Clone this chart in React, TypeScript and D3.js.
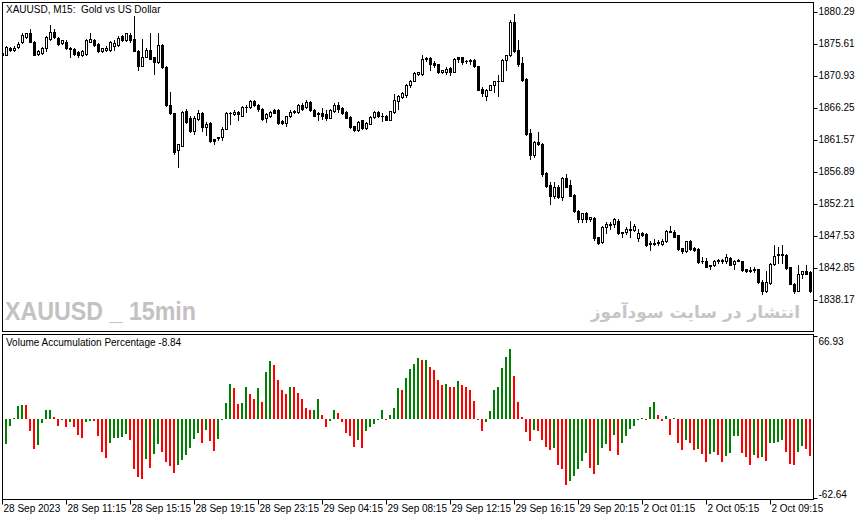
import { scaleBand, scaleLinear } from "d3";

// M15 XAUUSD bars (28 Sep 07:15 .. 2 Oct 10:45)
const opens = [
    1874.0, 1874.1, 1875.1, 1874.8, 1875.2, 1876.0, 1876.7, 1877.2, 1876.0, 1874.2,
    1874.3, 1875.0, 1876.4, 1877.4, 1876.6, 1875.8, 1876.0, 1875.0, 1874.9, 1874.5,
    1874.0, 1874.2, 1876.0, 1876.2, 1875.7, 1874.6, 1874.8, 1874.8, 1875.3, 1875.5,
    1876.8, 1876.2, 1877.0, 1876.4, 1874.7, 1872.5, 1873.8, 1874.8, 1873.7, 1873.0,
    1875.5, 1872.3, 1866.8, 1865.5, 1860.1, 1860.8, 1865.9, 1864.9, 1863.0, 1864.7,
    1865.6, 1863.5, 1864.1, 1861.7, 1862.0, 1862.0, 1863.3, 1865.5, 1865.4, 1865.7,
    1865.2, 1866.5, 1866.4, 1867.3, 1866.8, 1866.2, 1864.9, 1865.1, 1866.0, 1866.0,
    1864.4, 1864.1, 1865.1, 1865.9, 1865.7, 1866.8, 1866.4, 1867.2, 1866.0, 1865.5,
    1865.5, 1865.4, 1864.9, 1865.8, 1866.8, 1866.3, 1865.7, 1865.0, 1863.6, 1863.1,
    1864.5, 1863.4, 1864.0, 1865.0, 1865.7, 1865.2, 1865.2, 1864.6, 1865.7, 1867.3,
    1867.9, 1868.2, 1869.7, 1870.3, 1871.2, 1871.2, 1873.4, 1873.6, 1872.9, 1872.7,
    1871.5, 1871.6, 1872.2, 1871.6, 1873.7, 1873.7, 1873.1, 1873.1, 1873.3, 1872.4,
    1869.1, 1868.1, 1869.0, 1869.6, 1870.2, 1870.3, 1873.3, 1874.0, 1878.8, 1874.8,
    1872.9, 1870.6, 1862.6, 1859.4, 1861.4, 1861.1, 1856.8, 1855.0, 1853.5, 1854.8,
    1853.3, 1856.1, 1855.0, 1853.6, 1851.3, 1850.1, 1850.9, 1850.0, 1850.2, 1847.4,
    1846.7, 1848.9, 1849.2, 1849.3, 1849.8, 1848.1, 1848.1, 1848.5, 1848.4, 1847.3,
    1848.0, 1847.9, 1846.5, 1846.4, 1846.5, 1846.4, 1846.8, 1848.2, 1848.2, 1847.7,
    1845.8, 1845.4, 1846.9, 1845.9, 1845.7, 1843.9, 1844.0, 1843.3, 1843.3, 1843.9,
    1844.0, 1844.0, 1844.4, 1843.5, 1844.0, 1843.9, 1842.7, 1842.5, 1842.6, 1842.7,
    1840.9, 1839.5, 1840.7, 1843.5, 1844.8, 1844.8, 1844.8, 1843.0, 1840.6, 1839.6,
    1842.0, 1842.4, 1842.3,
];
const highs = [
    1874.6, 1875.3, 1875.2, 1875.3, 1876.0, 1877.2, 1877.3, 1877.8, 1876.1, 1874.8,
    1875.2, 1876.8, 1878.4, 1877.9, 1876.7, 1876.3, 1876.2, 1875.2, 1875.0, 1874.6,
    1874.8, 1876.4, 1877.3, 1876.4, 1875.8, 1875.1, 1875.3, 1876.1, 1876.2, 1876.8,
    1877.0, 1877.3, 1877.3, 1879.7, 1874.8, 1876.4, 1875.0, 1877.2, 1873.8, 1877.2,
    1875.7, 1872.4, 1868.6, 1865.6, 1861.1, 1865.9, 1866.2, 1865.2, 1865.1, 1866.0,
    1865.7, 1864.2, 1864.3, 1861.8, 1862.1, 1863.5, 1865.7, 1865.7, 1866.0, 1865.8,
    1866.6, 1866.7, 1867.4, 1867.4, 1866.9, 1866.3, 1865.5, 1865.8, 1866.2, 1866.1,
    1864.5, 1865.2, 1866.0, 1866.0, 1866.9, 1867.0, 1867.4, 1867.3, 1866.1, 1865.7,
    1866.3, 1866.0, 1866.1, 1867.0, 1867.2, 1866.4, 1865.8, 1865.1, 1863.7, 1864.4,
    1864.6, 1864.2, 1865.1, 1865.8, 1865.8, 1865.5, 1865.3, 1865.9, 1868.3, 1868.2,
    1868.6, 1869.8, 1870.4, 1871.6, 1871.6, 1874.1, 1873.8, 1873.8, 1873.2, 1872.8,
    1871.9, 1872.3, 1872.3, 1873.6, 1873.8, 1873.8, 1873.3, 1873.4, 1873.4, 1872.5,
    1869.3, 1869.1, 1869.7, 1870.3, 1871.1, 1873.4, 1874.1, 1879.1, 1880.0, 1876.3,
    1873.8, 1870.7, 1863.3, 1861.5, 1862.8, 1861.2, 1856.9, 1855.5, 1855.5, 1855.0,
    1856.2, 1856.6, 1855.7, 1853.7, 1851.4, 1851.0, 1851.1, 1850.4, 1850.3, 1847.5,
    1849.0, 1849.6, 1849.6, 1850.2, 1850.1, 1848.2, 1848.9, 1849.8, 1849.3, 1848.6,
    1848.1, 1848.0, 1846.8, 1847.2, 1847.0, 1847.1, 1848.4, 1849.0, 1848.4, 1847.8,
    1845.9, 1846.9, 1847.0, 1846.0, 1845.8, 1844.5, 1844.4, 1843.4, 1844.1, 1844.2,
    1844.2, 1844.9, 1844.5, 1844.1, 1844.2, 1844.0, 1842.8, 1843.1, 1843.0, 1842.8,
    1841.2, 1842.5, 1843.6, 1846.3, 1846.0, 1846.2, 1844.9, 1843.1, 1840.7, 1843.3,
    1842.5, 1843.3, 1842.4,
];
const lows = [
    1873.6, 1874.0, 1874.6, 1874.6, 1875.1, 1875.8, 1876.6, 1875.9, 1874.0, 1874.1,
    1874.2, 1874.7, 1876.3, 1876.6, 1875.5, 1875.6, 1874.9, 1873.8, 1874.0, 1873.8,
    1873.9, 1874.1, 1875.9, 1875.3, 1874.5, 1874.5, 1874.6, 1874.7, 1874.8, 1875.4,
    1876.1, 1876.1, 1876.0, 1874.6, 1871.9, 1872.4, 1873.7, 1873.4, 1871.3, 1872.9,
    1872.2, 1866.6, 1865.4, 1859.6, 1857.7, 1860.7, 1864.1, 1862.8, 1862.5, 1864.6,
    1863.0, 1862.3, 1861.4, 1861.1, 1861.6, 1861.6, 1863.2, 1864.0, 1865.3, 1864.5,
    1865.1, 1865.7, 1866.3, 1866.6, 1865.9, 1864.5, 1864.3, 1865.0, 1865.5, 1864.0,
    1863.9, 1863.7, 1865.0, 1865.6, 1865.6, 1866.0, 1866.3, 1865.9, 1865.1, 1864.6,
    1864.7, 1864.6, 1864.8, 1865.7, 1865.7, 1865.4, 1864.8, 1863.4, 1862.9, 1862.9,
    1863.3, 1863.2, 1863.9, 1864.9, 1865.0, 1864.4, 1864.5, 1864.5, 1865.6, 1866.2,
    1867.7, 1867.9, 1869.4, 1870.2, 1871.1, 1871.1, 1873.2, 1871.9, 1872.3, 1871.4,
    1871.4, 1871.2, 1871.1, 1871.5, 1873.0, 1872.7, 1872.9, 1872.8, 1872.3, 1868.9,
    1868.0, 1867.5, 1868.9, 1868.6, 1868.1, 1870.2, 1871.8, 1873.9, 1874.5, 1872.5,
    1870.2, 1862.4, 1858.9, 1859.1, 1860.9, 1856.4, 1854.8, 1852.2, 1853.2, 1853.1,
    1852.9, 1854.7, 1853.4, 1851.1, 1849.7, 1849.6, 1849.7, 1849.8, 1847.0, 1846.4,
    1846.5, 1848.0, 1848.6, 1848.9, 1847.9, 1847.5, 1847.9, 1847.5, 1848.3, 1846.8,
    1847.6, 1846.1, 1845.5, 1846.2, 1846.2, 1846.3, 1846.7, 1848.1, 1847.4, 1845.6,
    1845.1, 1845.3, 1845.6, 1845.4, 1843.7, 1843.7, 1843.0, 1842.8, 1843.2, 1843.7,
    1843.7, 1843.7, 1843.3, 1842.8, 1843.9, 1842.5, 1842.3, 1842.3, 1842.3, 1840.7,
    1839.1, 1839.4, 1840.6, 1843.4, 1843.7, 1843.7, 1842.8, 1840.5, 1839.3, 1839.5,
    1841.5, 1842.0, 1839.4,
];
const closes = [
    1874.3, 1875.2, 1874.8, 1875.0, 1875.7, 1876.9, 1877.2, 1876.0, 1874.1, 1874.7,
    1875.0, 1876.7, 1877.4, 1876.7, 1875.7, 1876.2, 1875.0, 1874.9, 1874.2, 1874.0,
    1874.6, 1876.3, 1876.4, 1875.5, 1874.6, 1875.0, 1875.1, 1876.0, 1875.8, 1876.6,
    1876.2, 1877.2, 1876.2, 1874.7, 1872.5, 1873.8, 1874.8, 1873.5, 1873.0, 1875.5,
    1872.3, 1866.7, 1865.5, 1859.8, 1861.0, 1865.7, 1864.2, 1863.0, 1864.9, 1865.5,
    1863.5, 1864.0, 1861.5, 1861.5, 1861.9, 1863.3, 1865.6, 1865.6, 1865.7, 1865.4,
    1866.5, 1866.4, 1867.3, 1866.7, 1866.2, 1864.7, 1865.4, 1865.7, 1865.6, 1864.1,
    1864.1, 1865.1, 1865.7, 1865.7, 1866.8, 1866.1, 1867.2, 1866.0, 1865.2, 1865.4,
    1865.1, 1864.9, 1866.0, 1866.8, 1866.2, 1865.5, 1864.9, 1863.5, 1863.1, 1864.3,
    1863.4, 1864.1, 1865.0, 1865.7, 1865.1, 1865.1, 1864.6, 1865.8, 1867.4, 1868.0,
    1868.5, 1869.7, 1870.3, 1871.4, 1871.5, 1873.4, 1873.6, 1872.8, 1872.6, 1871.5,
    1871.8, 1872.0, 1871.5, 1873.5, 1873.4, 1873.0, 1873.2, 1873.3, 1872.4, 1869.0,
    1868.5, 1869.0, 1869.6, 1870.2, 1870.3, 1873.3, 1874.0, 1878.9, 1874.6, 1872.8,
    1870.4, 1862.5, 1859.4, 1861.4, 1861.0, 1856.7, 1854.9, 1853.5, 1854.8, 1853.3,
    1856.1, 1854.8, 1853.5, 1851.2, 1850.1, 1850.9, 1850.1, 1850.3, 1847.3, 1846.6,
    1848.9, 1849.3, 1849.3, 1850.0, 1848.0, 1848.0, 1848.6, 1848.6, 1849.0, 1848.0,
    1847.7, 1846.2, 1846.4, 1846.6, 1846.7, 1846.9, 1848.3, 1848.3, 1847.5, 1845.7,
    1845.4, 1846.8, 1845.7, 1845.5, 1843.8, 1844.0, 1843.1, 1843.2, 1844.0, 1844.1,
    1844.1, 1844.5, 1843.4, 1844.0, 1844.1, 1842.6, 1842.4, 1842.6, 1842.7, 1840.8,
    1839.6, 1840.8, 1843.5, 1844.7, 1844.9, 1844.9, 1842.9, 1840.6, 1839.6, 1842.0,
    1842.4, 1842.1, 1839.5,
];

// Volume Accumulation Percentage, one value per bar
const vap = [
    -25.0, -19.6, -5.3, 1.1, 10.6, 11.9, 11.4, -9.3, -23.6, -20.4,
    -2.9, 7.2, 7.9, 1.6, -5.0, -0.5, -6.1, -2.1, -6.1, -12.5,
    -14.8, -2.1, -1.3, -1.6, -13.2, -26.0, -30.7, -18.8, -15.1, -14.9,
    -14.0, -11.7, -16.4, -39.2, -45.8, -47.4, -31.5, -38.4, -27.6, -19.6,
    -26.0, -33.9, -36.8, -42.7, -36.3, -32.3, -28.4, -22.5, -15.4, -10.9,
    -18.8, -8.2, -17.5, -25.2, -15.6, 0.5, 13.5, 28.6, 24.9, 12.7,
    13.5, 26.2, 19.9, 15.9, 24.9, 14.3, 38.2, 46.4, 43.7, 31.8,
    23.8, 19.9, 26.2, 26.0, 20.7, 16.4, 9.5, 7.4, 7.9, 15.9,
    3.2, -6.1, -1.3, 7.2, 4.8, -2.1, -10.9, -13.2, -22.0, -16.2,
    -22.8, -9.3, -5.8, -3.7, -0.8, 7.2, -0.5, 3.2, 9.5, 24.9,
    23.1, 33.4, 40.0, 44.5, 49.3, 47.2, 47.7, 42.1, 39.7, 31.8,
    27.8, 28.6, 26.2, 26.0, 31.0, 27.8, 26.2, 23.1, 15.1, -0.5,
    -9.3, -2.1, 6.4, 23.1, 26.2, 41.3, 50.1, 56.4, 35.0, 14.3,
    1.6, -10.1, -17.2, -8.5, -9.3, -16.4, -22.0, -24.4, -22.8, -36.3,
    -39.5, -52.2, -49.0, -45.0, -39.5, -33.1, -26.8, -38.7, -43.5, -36.3,
    -22.8, -19.6, -25.2, -12.5, -28.4, -18.8, -13.2, -7.7, -5.3, -0.5,
    0.8, -0.5, 10.3, 14.3, 3.2, -1.3, 2.4, -12.5, 0.8, -18.8,
    -24.4, -16.4, -18.8, -24.6, -23.6, -27.6, -33.9, -27.6, -26.0, -28.4,
    -33.9, -29.1, -26.8, -13.2, -13.0, -26.8, -29.9, -36.3, -28.4, -30.7,
    -29.9, -33.1, -18.8, -18.6, -18.0, -16.4, -26.0, -35.5, -36.3, -26.0,
    -21.2, -23.6, -29.1,
];

const priceTicks = [1880.29, 1875.61, 1870.93, 1866.25, 1861.57, 1856.89, 1852.21, 1847.53, 1842.85, 1838.17];
const vapTicks = [66.93, -62.64];
const timeTickBars = [0, 16, 32, 48, 64, 80, 96, 112, 128, 144, 160, 176, 192];
const timeLabels = [
    "28 Sep 2023", "28 Sep 11:15", "28 Sep 15:15", "28 Sep 19:15", "28 Sep 23:15",
    "29 Sep 04:15", "29 Sep 08:15", "29 Sep 12:15", "29 Sep 16:15", "29 Sep 20:15",
    "2 Oct 01:15", "2 Oct 05:15", "2 Oct 09:15",
];

const FONT = "'Liberation Sans', Arial, sans-serif";

export default function App() {
    const width = 866;
    const height = 520;
    const left = 2.5;
    const right = 813.5;
    const mainTop = 2.5;
    const mainBottom = 331.5;
    const subTop = 334.5;
    const subBottom = 499.5;

    const bars = opens.map((_, i) => i);
    const scaleX = scaleBand<number>()
        .domain(bars)
        .range([0.5, 0.5 + bars.length * 4]);
    const cx = (i: number) => (scaleX(i) ?? 0) + scaleX.bandwidth() / 2;

    const scaleY = scaleLinear()
        .domain([1838.17, 1880.29])
        .range([300.4, 12.3]);
    const scaleV = scaleLinear()
        .domain([-62.64, 66.93])
        .range([498, 335.5]);
    const zero = Math.round(scaleV(0));

    return (
        <svg
            width={width}
            height={height}
            style={{ position: "absolute", left: 0, top: 0, background: "#fff" }}
            fontFamily={FONT}
        >
            <defs>
                <clipPath id="mainClip">
                    <rect x={left} y={mainTop} width={right - left} height={mainBottom - mainTop} />
                </clipPath>
                <clipPath id="subClip">
                    <rect x={left} y={subTop} width={right - left} height={subBottom - subTop} />
                </clipPath>
            </defs>
            <rect x={0} y={0} width={width} height={height} fill="#fff" />

            {/* watermarks */}
            <text
                x={5}
                y={320}
                fontSize={26}
                fontWeight="bold"
                fill="#c2c2c2"
                textLength={191}
                lengthAdjust="spacingAndGlyphs"
            >
                XAUUSD _ 15min
            </text>
            <text
                x={800}
                y={318}
                fontSize={17}
                fontWeight="bold"
                fontFamily="'DejaVu Sans', sans-serif"
                fill="#c6c6c6"
                textAnchor="end"
            >
                انتشار در سایت سودآموز
            </text>

            {/* candles */}
            <g clipPath="url(#mainClip)">
                {bars.map((i) => {
                    const x = cx(i);
                    const o = opens[i];
                    const c = closes[i];
                    const top = Math.round(scaleY(Math.max(o, c))) + 0.5;
                    const bot = Math.round(scaleY(Math.min(o, c))) + 0.5;
                    const up = c >= o;
                    return (
                        <g key={`c-${i}`}>
                            <line
                                x1={x}
                                x2={x}
                                y1={Math.round(scaleY(highs[i]))}
                                y2={Math.round(scaleY(lows[i])) + 1}
                                stroke="#000"
                            />
                            {bot - top < 1 ? (
                                <line x1={x - 1.5} x2={x + 1.5} y1={top} y2={top} stroke="#000" />
                            ) : (
                                <rect
                                    x={x - 1}
                                    y={top}
                                    width={2}
                                    height={bot - top}
                                    fill={up ? "#fff" : "#000"}
                                    stroke="#000"
                                />
                            )}
                        </g>
                    );
                })}
            </g>

            {/* histogram */}
            <g clipPath="url(#subClip)">
                {bars.map((i) => {
                    const v = vap[i];
                    const yv = Math.round(scaleV(v));
                    const rising = i === 0 || v >= vap[i - 1];
                    const y = Math.min(yv, zero);
                    const h = Math.max(Math.abs(yv - zero), 1);
                    return (
                        <rect
                            key={`h-${i}`}
                            x={Math.floor(cx(i)) - 1}
                            y={y}
                            width={2}
                            height={h}
                            fill={rising ? "#008000" : "#ff0000"}
                        />
                    );
                })}
            </g>

            {/* pane frames */}
            <rect x={left} y={mainTop} width={right - left} height={mainBottom - mainTop} fill="none" stroke="#000" />
            <rect x={left} y={subTop} width={right - left} height={subBottom - subTop} fill="none" stroke="#000" />

            <text x={6} y={10} fontSize={10} dominantBaseline="middle" fill="#000" style={{ whiteSpace: "pre" }}>
                {"XAUUSD, M15:  Gold vs US Dollar"}
            </text>
            <text x={6} y={343} fontSize={10} dominantBaseline="middle" fill="#000">
                Volume Accumulation Percentage -8.84
            </text>

            {/* price axis */}
            {priceTicks.map((t) => {
                const y = Math.round(scaleY(t)) + 0.5;
                return (
                    <g key={`p-${t}`}>
                        <line x1={right} x2={right + 4} y1={y} y2={y} stroke="#000" />
                        <text x={right + 5} y={y} fontSize={10} dominantBaseline="middle" fill="#000">
                            {t.toFixed(2)}
                        </text>
                    </g>
                );
            })}

            {/* indicator axis */}
            {vapTicks.map((t, k) => {
                const y = Math.round(scaleV(t)) + 0.5;
                return (
                    <g key={`v-${t}`}>
                        <line x1={right} x2={right + 4} y1={y} y2={y} stroke="#000" />
                        <text
                            x={right + 5}
                            y={k === 0 ? y + 1 : y - 1}
                            fontSize={10}
                            dominantBaseline={k === 0 ? "hanging" : "alphabetic"}
                            fill="#000"
                        >
                            {t.toFixed(2)}
                        </text>
                    </g>
                );
            })}

            {/* time axis */}
            {timeTickBars.map((b, k) => {
                const x = Math.floor(cx(b)) + 0.5;
                return (
                    <g key={`t-${b}`}>
                        <line x1={x} x2={x} y1={subBottom} y2={subBottom + 5} stroke="#000" />
                        <text x={x + 1} y={509} fontSize={10} dominantBaseline="middle" fill="#000">
                            {timeLabels[k]}
                        </text>
                    </g>
                );
            })}
        </svg>
    );
}
